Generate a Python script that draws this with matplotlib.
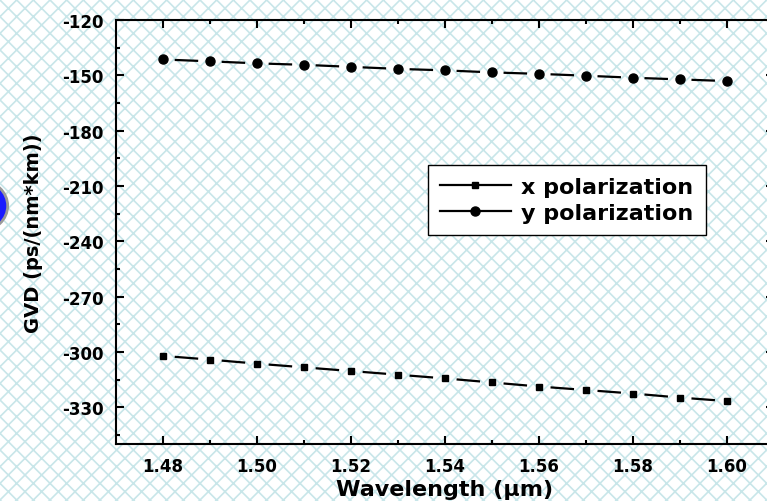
import numpy as np
import matplotlib.pyplot as plt
from matplotlib.patches import Rectangle, Ellipse

plt.rcParams['font.family'] = ['DejaVu Sans']
plt.rcParams['font.weight'] = 'bold'
plt.rcParams['axes.unicode_minus'] = False
plt.rcParams['hatch.linewidth'] = 1.2

# Data
wavelength = np.array([1.48, 1.49, 1.50, 1.51, 1.52, 1.53, 1.54,
                       1.55, 1.56, 1.57, 1.58, 1.59, 1.60])
gvd_x = np.array([-302.2, -304.2, -306.4, -308.4, -310.4, -312.4, -314.4,
                  -316.6, -318.8, -320.7, -322.6, -324.8, -326.7])
gvd_y = np.array([-141.4, -142.4, -143.5, -144.3, -145.4, -146.5, -147.3,
                  -148.4, -149.2, -150.2, -151.3, -152.2, -153.1])
xticks = [1.48, 1.50, 1.52, 1.54, 1.56, 1.58, 1.60]
yticks = [-330, -300, -270, -240, -210, -180, -150, -120]

fig = plt.figure(figsize=(7.67, 5.02), dpi=100)

# light patterned background
bg = Rectangle((0, 0), 1, 1, transform=fig.transFigure, facecolor='white',
               edgecolor='#c8e6e9', linewidth=0, hatch='xx', zorder=-10)
fig.add_artist(bg)
fig.add_artist(Ellipse((-0.025, 0.588), 0.07, 0.1, transform=fig.transFigure,
                       facecolor='#1a1aff', edgecolor='#9a9a9a', linewidth=2, zorder=-5))

ax = fig.add_axes([0.1512, 0.1135, 0.8575, 0.8446])
ax.set_facecolor('none')

gap = 0.25


def gapped(ax, x, y, marker, ms, label):
    # Origin-style line: short segments leaving a gap around each marker
    for i in range(len(x) - 1):
        dx, dy = x[i + 1] - x[i], y[i + 1] - y[i]
        ax.plot([x[i] + gap * dx, x[i + 1] - gap * dx],
                [y[i] + gap * dy, y[i + 1] - gap * dy],
                color='black', lw=1.6, solid_capstyle='butt')
    ax.plot(x, y, ls='none', marker=marker, ms=ms, color='black')
    # legend proxy
    ax.plot([], [], color='black', lw=1.6, marker=marker, ms=ms, label=label)


gapped(ax, wavelength, gvd_x, 's', 5, 'x polarization')
gapped(ax, wavelength, gvd_y, 'o', 6.5, 'y polarization')

ax.set_xlim(1.47, 1.61)
ax.set_ylim(-350, -120)
ax.set_xticks(xticks)
ax.set_xticklabels([f'{v:.2f}' for v in xticks])
ax.set_xticks(np.arange(1.49, 1.60, 0.02), minor=True)
ax.set_yticks(yticks)
ax.set_yticks(np.arange(-345, -120, 30), minor=True)

for s in ax.spines.values():
    s.set_linewidth(1.5)
ax.tick_params(which='both', direction='in', top=True, right=True, width=1.5)
ax.tick_params(which='major', length=6, labelsize=12, pad=9)
ax.tick_params(which='minor', length=3)

ax.set_xlabel('Wavelength (μm)', fontsize=16, fontweight='bold', labelpad=3)
ax.set_ylabel('GVD (ps/(nm*km))', fontsize=14, fontweight='bold')
ax.yaxis.set_label_coords(-0.111, 0.5)

leg = ax.legend(loc='upper left', bbox_to_anchor=(0.474, 0.658), borderaxespad=0,
                fancybox=False, edgecolor='black', framealpha=1, fontsize=16,
                handlelength=3.2, handletextpad=0.45, labelspacing=0.25, borderpad=0.55)
leg.get_frame().set_linewidth(1.0)

fig.savefig('out.png', dpi=100)
